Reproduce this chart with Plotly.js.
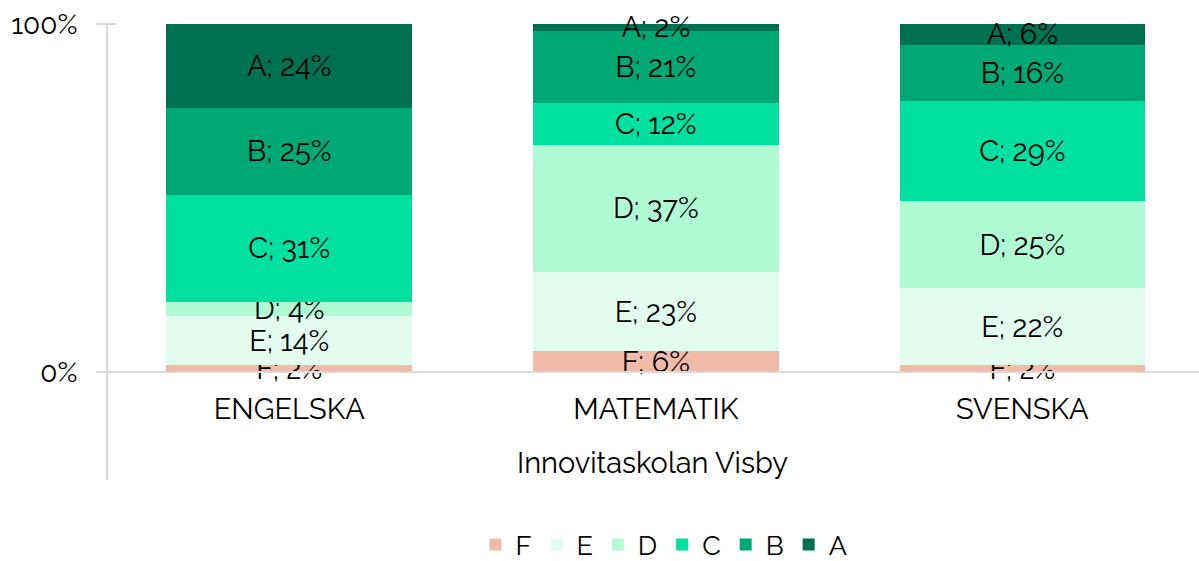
<!DOCTYPE html>
<html>
<head>
<meta charset="utf-8">
<script src="https://cdn.plot.ly/plotly-3.0.1.min.js"></script>
<style>html,body{margin:0;padding:0;background:#fff;}#chart{width:1199px;height:561px;}</style>
</head>
<body>
<div id="chart"></div>
<script>
const categories = ["ENGELSKA", "MATEMATIK", "SVENSKA"];
const groupLabel = "Innovitaskolan Visby";
const grades = ["F", "E", "D", "C", "B", "A"];
const valuesF = [2, 6, 2];
const valuesE = [14, 23, 22];
const valuesD = [4, 37, 25];
const valuesC = [31, 12, 29];
const valuesB = [25, 21, 16];
const valuesA = [24, 2, 6];
const yTickVals = [0, 100];
const yTickText = ["0%", "100%"];
const colors = ["#F2BBA9", "#E2FDF0", "#AFFAD5", "#00E09F", "#00A874", "#007150"];

const series = [valuesF, valuesE, valuesD, valuesC, valuesB, valuesA];
const FONT = "Raleway, Lato, 'Open Sans', sans-serif";
const FS = 29;

const traces = series.map((vals, i) => ({
  type: "bar",
  name: grades[i],
  x: categories,
  y: vals,
  text: vals.map(v => grades[i] + "; " + v + "%"),
  textposition: "inside",
  insidetextanchor: "middle",
  constraintext: "none",
  textangle: 0,
  textfont: {family: FONT, size: FS, color: "#000"},
  marker: {color: colors[i], line: {width: 0}},
  hoverinfo: "skip",
  cliponaxis: false
}));

const lineColor = "#d9d9d9";
const plotTop = 24, plotBottom = 372, plotH = plotBottom - plotTop;
const plotW = 1093;
const shapes = [
  {type: "line", xref: "paper", yref: "paper", x0: 0.001, x1: 0.001, y0: 1, y1: -(480 - plotBottom) / plotH, line: {color: lineColor, width: 2}},
  {type: "line", xref: "paper", yref: "paper", x0: -10 / plotW, x1: 1, y0: 0, y1: 0, line: {color: lineColor, width: 2}},
  {type: "line", xref: "paper", yref: "paper", x0: -10 / plotW, x1: 10 / plotW, y0: 1, y1: 1, line: {color: lineColor, width: 2}}
];

const layout = {
  width: 1199,
  height: 561,
  margin: {l: 106, r: 0, t: plotTop, b: 561 - plotBottom},
  paper_bgcolor: "#fff",
  plot_bgcolor: "#fff",
  barmode: "stack",
  barnorm: "percent",
  bargap: 0.33,
  showlegend: true,
  font: {family: FONT, size: FS, color: "#000"},
  xaxis: {
    type: "category",
    range: [-0.5, 2.482],
    showline: false,
    showgrid: false,
    zeroline: false,
    ticks: "outside",
    ticklen: 11,
    tickcolor: "rgba(0,0,0,0)",
    tickfont: {family: FONT, size: FS, color: "#000"},
    title: {text: groupLabel, font: {family: FONT, size: FS, color: "#000"}, standoff: 27},
    fixedrange: true
  },
  yaxis: {
    range: [0, 100],
    tickvals: yTickVals,
    ticktext: yTickText,
    showline: false,
    showgrid: false,
    zeroline: false,
    ticks: "outside",
    ticklen: 22,
    tickcolor: "rgba(0,0,0,0)",
    tickfont: {family: FONT, size: 28, color: "#000"},
    fixedrange: true
  },
  legend: {
    orientation: "h",
    x: 0.5105,
    xanchor: "center",
    xref: "paper",
    y: 1 - 545 / 561,
    yref: "container",
    yanchor: "middle",
    traceorder: "normal",
    font: {family: FONT, size: 27, color: "#000"},
    itemwidth: 30,
    itemclick: false
  },
  shapes: shapes
};

Plotly.newPlot("chart", traces, layout, {displayModeBar: false, staticPlot: true});
</script>
</body>
</html>
